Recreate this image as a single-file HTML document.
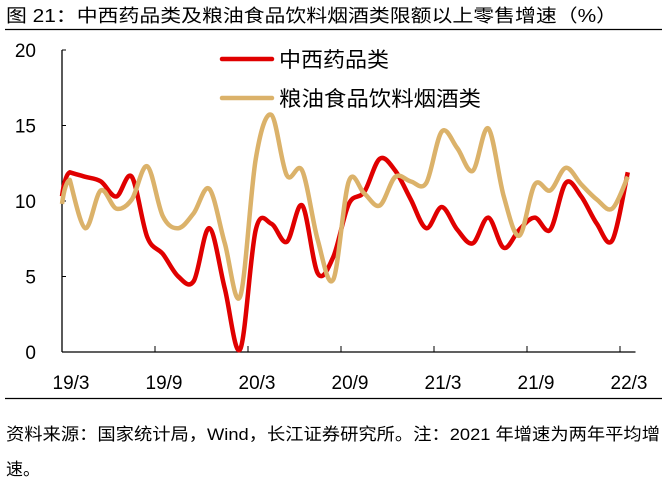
<!DOCTYPE html>
<html><head><meta charset="utf-8"><style>
body{margin:0;background:#fff;width:667px;height:484px;overflow:hidden;font-family:"Liberation Sans","Noto Sans CJK SC",sans-serif;}
</style></head><body>
<svg width="667" height="484" xmlns="http://www.w3.org/2000/svg">
<text x="6" y="22" font-size="18" textLength="611" lengthAdjust="spacingAndGlyphs" fill="#000">图 21：中西药品类及粮油食品饮料烟酒类限额以上零售增速（%）</text>
<line x1="5" y1="29.5" x2="662" y2="29.5" stroke="#000" stroke-width="1.2"/>
<g id="axes"></g>
<g id="series"></g>
<g>
<line x1="222" y1="59" x2="272" y2="59" stroke="#e00000" stroke-width="4.5" stroke-linecap="round"/>
<text x="279" y="67" font-size="21" textLength="110" lengthAdjust="spacingAndGlyphs">中西药品类</text>
<line x1="222" y1="98" x2="272" y2="98" stroke="#dbb26a" stroke-width="4.5" stroke-linecap="round"/>
<text x="279" y="106" font-size="21" textLength="202" lengthAdjust="spacingAndGlyphs">粮油食品饮料烟酒类</text>
</g>
<line x1="5" y1="398.5" x2="662" y2="398.5" stroke="#000" stroke-width="1.2"/>
<text x="6" y="440" font-size="17" textLength="654" lengthAdjust="spacingAndGlyphs">资料来源：国家统计局，Wind，长江证券研究所。注：2021 年增速为两年平均增</text>
<text x="6" y="475" font-size="17">速。</text>
</svg>
<script>
const medicine=[11.9,11.6,11.3,10.3,11.6,7.6,6.5,5.0,4.7,8.2,4.2,0.2,8.1,8.5,7.3,9.7,5.2,6.3,9.8,10.6,12.8,12.0,10.1,8.2,9.6,8.1,7.2,8.9,6.9,8.1,8.9,8.1,11.2,10.3,8.5,7.4,11.9];
const food=[11.4,8.2,10.7,9.5,10.1,12.3,9.0,8.2,9.2,10.8,7.2,3.7,12.8,15.7,11.7,12.0,7.4,4.8,11.3,10.5,9.7,11.6,11.3,11.2,14.6,13.5,12.0,14.8,10.3,7.7,11.1,10.7,12.2,11.1,10.1,9.5,11.6];
const yTicks=[0,5,10,15,20];
const xTickLabels=["19/3","19/9","20/3","20/9","21/3","21/9","22/3"];
const xTickIdx=[0,6,12,18,24,30,36];
const NS="http://www.w3.org/2000/svg";
const x0=62,step=15.5,yZero=352,yUnit=15.1;
const xEdge=i=>x0+i*step;
const xMid=i=>x0+(i+0.5)*step;
const y=v=>yZero-v*yUnit;
const axes=document.getElementById('axes');
function mk(tag,attrs,parent){const e=document.createElementNS(NS,tag);for(const k in attrs)e.setAttribute(k,attrs[k]);parent.appendChild(e);return e;}
const n=medicine.length;
let ya=mk('line',{x1:x0,y1:y(20),x2:x0,y2:yZero,stroke:'#000','stroke-width':1.3},axes);


let xa=mk('line',{x1:x0,y1:yZero,x2:xEdge(n),y2:yZero,stroke:'#000','stroke-width':1.3},axes);


yTicks.forEach(v=>{
 let t=mk('line',{x1:x0,y1:y(v),x2:x0+4,y2:y(v),stroke:'#000','stroke-width':1},axes);
 
 
 let l=mk('text',{x:x0-26,y:y(v)+7,'font-size':19,'text-anchor':'end'},axes);
 l.textContent=v;
 
 
});
xTickIdx.forEach((idx,k)=>{
 if(k>0){let t=mk('line',{x1:xEdge(idx),y1:yZero,x2:xEdge(idx),y2:yZero-6,stroke:'#000','stroke-width':1},axes);
 
 }
 let l=mk('text',{x:xEdge(idx)+9,y:389,'font-size':19,'text-anchor':'middle'},axes);
 l.textContent=xTickLabels[k];
 
 
});
function path(vals){
 const p=vals.map((v,i)=>[xMid(i),y(v)]);
 let d='M'+x0+','+(p[0][1]+24).toFixed(1)+' Q'+(x0+3)+','+(p[0][1]+2).toFixed(1)+' '+p[0][0]+','+p[0][1];
 for(let i=0;i<p.length-1;i++){
  const a=p[i-1]||p[i],b=p[i],c=p[i+1],e=p[i+2]||c;
  const c1=[b[0]+(c[0]-a[0])/6,b[1]+(c[1]-a[1])/6],c2=[c[0]-(e[0]-b[0])/6,c[1]-(e[1]-b[1])/6];
  d+=` C${c1[0].toFixed(1)},${c1[1].toFixed(1)} ${c2[0].toFixed(1)},${c2[1].toFixed(1)} ${c[0].toFixed(1)},${c[1].toFixed(1)}`;
 }
 return d;
}
const sg=document.getElementById('series');
let pf=mk('path',{d:path(food),fill:'none',stroke:'#dbb26a','stroke-width':4.5,'stroke-linejoin':'round'},sg);


let pm=mk('path',{d:path(medicine),fill:'none',stroke:'#e00000','stroke-width':4.5,'stroke-linejoin':'round'},sg);


sg.appendChild(pf);
</script>
</body></html>
